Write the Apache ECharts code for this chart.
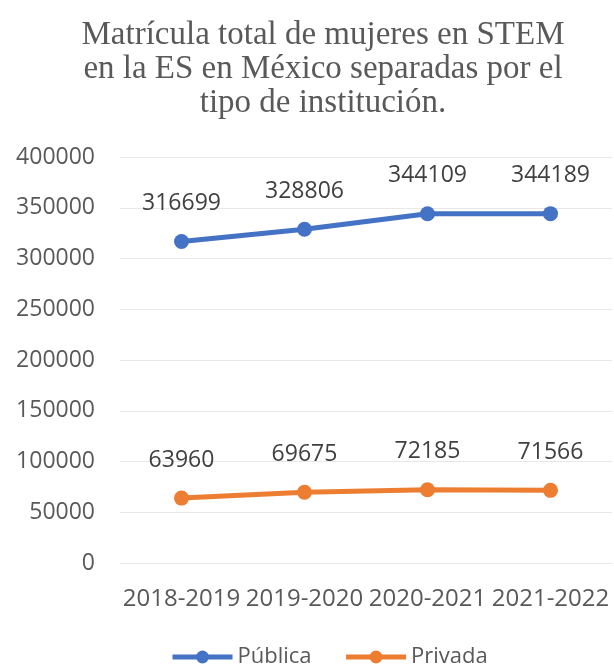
<!DOCTYPE html>
<html>
<head>
<meta charset="utf-8">
<script src="https://cdn.jsdelivr.net/npm/echarts@6/dist/echarts.min.js"></script>
<style>
  html, body { margin: 0; padding: 0; background: #fff; }
  #chart { width: 614px; height: 667px; }
</style>
</head>
<body>
<div id="chart"></div>
<script>
  // datos del gráfico
  const categories = ['2018-2019', '2019-2020', '2020-2021', '2021-2022']
  const publica = [316699, 328806, 344109, 344189]
  const privada = [63960, 69675, 72185, 71566]
  const yTicks = { min: 0, max: 400000, interval: 50000 }

  const chart = echarts.init(document.getElementById('chart'))
  const labelFont = '"Open Sans", "Noto Sans", sans-serif'

  const lineSeries = (name, data, color) => ({
    name: name,
    type: 'line',
    data: data,
    symbol: 'circle',
    symbolSize: 15,
    lineStyle: { width: 5, color: color },
    itemStyle: { color: color },
    label: {
      show: true,
      position: 'top',
      distance: 19,
      color: '#404040',
      fontSize: 23,
      fontFamily: labelFont
    }
  })

  chart.setOption({
    animation: false,
    backgroundColor: '#fff',
    title: {
      text: 'Matrícula total de mujeres en STEM\nen la ES en México separadas por el\ntipo de institución.',
      left: 318,
      textAlign: 'center',
      top: 13,
      textStyle: {
        fontFamily: '"Liberation Serif", serif',
        fontWeight: 'normal',
        fontSize: 33,
        lineHeight: 34,
        color: '#595959'
      }
    },
    legend: {
      top: 641,
      left: 165,
      itemWidth: 60,
      itemHeight: 16,
      itemGap: 32,
      lineStyle: { width: 5 },
      textStyle: { fontFamily: labelFont, fontSize: 22, color: '#595959' },
      data: ['Pública', 'Privada']
    },
    grid: { left: 120, right: 2, top: 157, bottom: 104 },
    xAxis: {
      type: 'category',
      data: categories,
      axisLine: { show: false },
      axisTick: { show: false },
      axisLabel: { color: '#595959', fontSize: 24, fontFamily: labelFont, margin: 24, interval: 0 }
    },
    yAxis: {
      type: 'value',
      min: yTicks.min,
      max: yTicks.max,
      interval: yTicks.interval,
      axisLabel: {
        color: '#595959',
        fontSize: 23,
        fontFamily: labelFont,
        margin: 25,
        formatter: (v) => String(v)
      },
      splitLine: { lineStyle: { color: '#e8e8e8', width: 1 } }
    },
    series: [
      lineSeries('Pública', publica, '#4472C4'),
      lineSeries('Privada', privada, '#ED7D31')
    ]
  })
</script>
</body>
</html>
